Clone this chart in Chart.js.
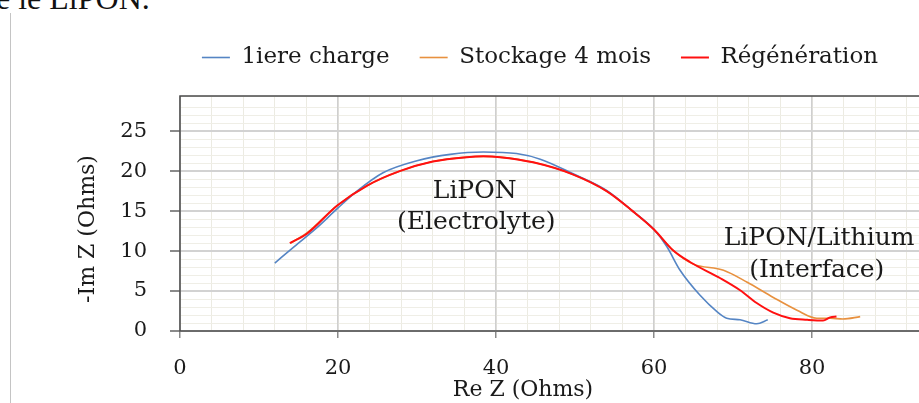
<!DOCTYPE html>
<html>
<head>
<meta charset="utf-8">
<script src="https://cdn.jsdelivr.net/npm/chart.js@4"></script>
<style>
  html, body { margin: 0; padding: 0; background: #fff; width: 919px; height: 403px; overflow: hidden; position: relative; }
  #docText { position: absolute; left: -4px; top: -18px; font: 32px 'Liberation Serif', serif; color: #111; white-space: nowrap; line-height: 32px; }
  #frame { position: absolute; left: 10px; top: 13px; width: 1px; height: 400px; background: #c4c4c4; }
  #wrap { position: absolute; left: 0; top: 0; width: 1000px; height: 403px; }
</style>
</head>
<body>
<div id="docText">e le LiPON.</div>
<div id="frame"></div>
<div id="wrap"><canvas id="mainChart" width="1000" height="403"></canvas></div>
<script>
const seriesNames = ['1iere charge', 'Stockage 4 mois', 'Régénération'];

const chargeX = [12.0, 14.5, 17.3, 19.9, 22.4, 25.7, 30.0, 34.2, 38.4, 42.6, 45.6, 49.7, 54.0, 57.3, 60.0, 61.6, 63.3, 65.8, 68.0, 69.2, 70.9, 73.0, 74.4];
const chargeY = [8.5, 10.6, 12.9, 15.3, 17.5, 19.8, 21.3, 22.1, 22.4, 22.2, 21.5, 19.7, 17.6, 15.0, 12.7, 10.6, 7.6, 4.5, 2.4, 1.6, 1.4, 0.9, 1.4];

const stockX = [14.0, 16.1, 19.9, 23.7, 27.8, 32.0, 36.3, 38.4, 40.5, 44.7, 49.7, 54.0, 57.3, 60.0, 62.4, 64.9, 68.8, 71.8, 75.1, 78.1, 80.6, 82.3, 83.9, 86.1];
const stockY = [11.0, 12.3, 15.7, 18.2, 20.0, 21.2, 21.75, 21.85, 21.75, 21.1, 19.6, 17.5, 15.0, 12.7, 10.1, 8.4, 7.6, 6.1, 4.2, 2.6, 1.6, 1.6, 1.5, 1.8];

const regenX = [13.9, 16.1, 19.9, 23.7, 27.8, 32.0, 36.3, 38.4, 40.5, 44.7, 49.7, 54.0, 57.3, 60.0, 62.4, 64.6, 68.4, 70.9, 73.0, 75.1, 77.2, 79.4, 81.4, 82.3, 83.1];
const regenY = [11.0, 12.2, 15.7, 18.2, 20.0, 21.2, 21.75, 21.85, 21.75, 21.1, 19.6, 17.5, 15.0, 12.7, 10.1, 8.6, 6.6, 5.1, 3.5, 2.3, 1.6, 1.4, 1.3, 1.7, 1.8];

const xTicks = [0, 20, 40, 60, 80];
const yTicks = [0, 5, 10, 15, 20, 25];

const notes = [
    { text: 'LiPON', x: 37.3, y: 17.5 },
    { text: '(Electrolyte)', x: 37.5, y: 13.6 },
    { text: 'LiPON/Lithium', x: 80.9, y: 11.6 },
    { text: '(Interface)', x: 80.6, y: 7.6 }
];

const serif = "'DejaVu Serif', serif";

function toPoints(xs, ys) {
    return xs.map((x, i) => ({ x: x, y: ys[i] }));
}

// push the plot down a little below the legend
const legendGap = {
    id: 'legendGap',
    beforeInit(chart) {
        const fit = chart.legend.fit;
        chart.legend.fit = function () {
            fit.bind(chart.legend)();
            this.height += 17;
        };
    }
};

const frameAndText = {
    id: 'frameAndText',
    afterDatasetsDraw(chart) {
        const ctx = chart.ctx;
        const a = chart.chartArea;
        const xs = chart.scales.x;
        const ys = chart.scales.y;
        ctx.save();
        ctx.strokeStyle = '#4a4a4a';
        ctx.lineWidth = 1.5;
        ctx.strokeRect(a.left, a.top, a.right - a.left, a.bottom - a.top);
        ctx.fillStyle = '#1a1a1a';
        ctx.font = '25px ' + serif;
        ctx.textAlign = 'center';
        ctx.textBaseline = 'middle';
        notes.forEach((n) => {
            ctx.fillText(n.text, xs.getPixelForValue(n.x), ys.getPixelForValue(n.y));
        });
        // axis titles
        ctx.font = '22px ' + serif;
        ctx.fillText('Re Z (Ohms)', 523, 390);
        ctx.translate(88, 229);
        ctx.rotate(-Math.PI / 2);
        ctx.fillText('-Im Z (Ohms)', 0, 0);
        ctx.restore();
    }
};

function setupCanvas() {
    const ctx = document.getElementById('mainChart').getContext('2d');
    const data = {
        datasets: [
            {
                label: seriesNames[0],
                data: toPoints(chargeX, chargeY),
                borderColor: '#5585c4',
                backgroundColor: '#5585c4',
                borderWidth: 1.6,
                order: 1
            },
            {
                label: seriesNames[1],
                data: toPoints(stockX, stockY),
                borderColor: '#e8913f',
                backgroundColor: '#e8913f',
                borderWidth: 1.6,
                order: 2
            },
            {
                label: seriesNames[2],
                data: toPoints(regenX, regenY),
                borderColor: '#ff1010',
                backgroundColor: '#ff1010',
                borderWidth: 2,
                order: 0
            }
        ]
    };
    const config = {
        type: 'line',
        data: data,
        options: {
            responsive: false,
            animation: false,
            devicePixelRatio: 1,
            layout: { padding: { left: 110, right: 30, top: 16, bottom: 0 } },
            elements: {
                point: { radius: 0 },
                line: { cubicInterpolationMode: 'monotone' }
            },
            scales: {
                x: {
                    type: 'linear',
                    min: 0,
                    max: 100,
                    afterBuildTicks: (s) => { s.ticks = xTicks.map(v => ({ value: v })); },
                    afterFit: (s) => { s.height = 72; },
                    ticks: { font: { family: serif, size: 21 }, color: '#1a1a1a', padding: 18, maxRotation: 0 },
                    grid: { color: '#cfcfcf', lineWidth: 1.5, tickLength: 7, tickColor: '#8a8a8a' },
                    border: { display: false }
                },
                xMinor: {
                    type: 'linear',
                    position: 'bottom',
                    min: 0,
                    max: 100,
                    ticks: { display: false, stepSize: 4 },
                    afterFit: (s) => { s.height = 0; },
                    grid: { color: '#ecebe2', lineWidth: 1, drawTicks: false, z: -2 },
                    border: { display: false }
                },
                y: {
                    type: 'linear',
                    min: 0,
                    max: 29.4,
                    afterBuildTicks: (s) => { s.ticks = yTicks.map(v => ({ value: v })); },
                    afterFit: (s) => { s.width = 70; },
                    ticks: { font: { family: serif, size: 21 }, color: '#1a1a1a', padding: 23 },
                    grid: { color: '#d2d2d2', lineWidth: 2, tickLength: 10, tickColor: '#8a8a8a' },
                    border: { display: false }
                },
                yMinor: {
                    type: 'linear',
                    position: 'left',
                    min: 0,
                    max: 29.4,
                    ticks: { display: false, stepSize: 1 },
                    afterFit: (s) => { s.width = 0; },
                    grid: { color: '#efeee6', lineWidth: 1, drawTicks: false, z: -2 },
                    border: { display: false }
                }
            },
            plugins: {
                legend: {
                    position: 'top',
                    labels: {
                        font: { family: serif, size: 23 },
                        color: '#1a1a1a',
                        usePointStyle: true,
                        pointStyle: 'line',
                        pointStyleWidth: 28,
                        boxHeight: 2,
                        padding: 30,
                        sort: (a, b) => a.datasetIndex - b.datasetIndex
                    }
                },
                tooltip: { enabled: false },
                title: { display: false }
            }
        },
        plugins: [legendGap, frameAndText]
    };
    return new Chart(ctx, config);
}

const mainChart = setupCanvas();
</script>
</body>
</html>
